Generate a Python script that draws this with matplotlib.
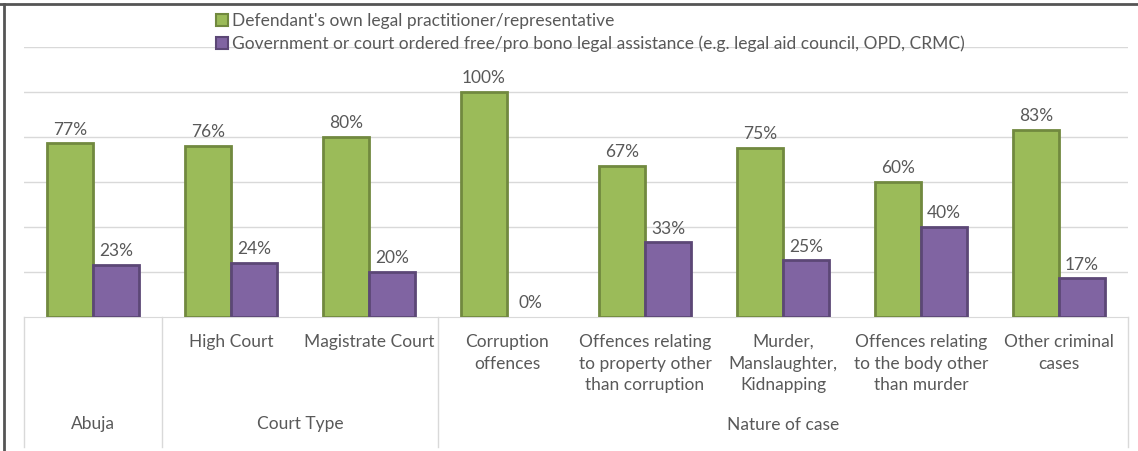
import matplotlib.pyplot as plt
import numpy as np
from matplotlib.patches import Patch
from matplotlib.lines import Line2D

plt.rcParams['font.family'] = ['Lato', 'DejaVu Sans']

categories = ["", "High Court", "Magistrate Court", "Corruption\noffences",
              "Offences relating\nto property other\nthan corruption",
              "Murder,\nManslaughter,\nKidnapping",
              "Offences relating\nto the body other\nthan murder",
              "Other criminal\ncases"]
groups = ["Abuja", "Court Type", "Nature of case"]
group_spans = [(0, 0), (1, 2), (3, 7)]
own_lawyer = [77, 76, 80, 100, 67, 75, 60, 83]
free_aid = [23, 24, 20, 0, 33, 25, 40, 17]
series_names = ["Defendant's own legal practitioner/representative",
                "Government or court ordered free/pro bono legal assistance (e.g. legal aid council, OPD, CRMC)"]

green, green_edge = "#9BBB59", "#71893F"
purple, purple_edge = "#8064A2", "#5C4776"
grey_text = "#595959"
grid_col = "#D9D9D9"
fs = 12.5

fig = plt.figure(figsize=(11.38, 4.51), dpi=100)
ax = fig.add_axes([24 / 1138, 1 - 316.5 / 451, 1104 / 1138, 270 / 451])

x = np.arange(len(categories))
w = 1 / 3
b1 = ax.bar(x - w / 2, own_lawyer, w, color=green, edgecolor=green_edge, linewidth=2, zorder=3)
b2 = ax.bar(x + w / 2, free_aid, w, color=purple, edgecolor=purple_edge, linewidth=2, zorder=3)

for bars, vals in ((b1, own_lawyer), (b2, free_aid)):
    for rect, v in zip(bars, vals):
        if v == 0:
            rect.set_linewidth(0)
        ax.annotate(f"{v}%", (rect.get_x() + rect.get_width() / 2, v),
                    xytext=(0, 4), textcoords="offset points",
                    ha="center", va="bottom", fontsize=fs, color=grey_text)

ax.set_xlim(-0.5, len(categories) - 0.5)
ax.set_ylim(0, 120)
ax.set_yticks(np.arange(20, 121, 20))
ax.yaxis.grid(True, color=grid_col, linewidth=1)
ax.set_axisbelow(True)
ax.tick_params(left=False, labelleft=False, bottom=False, labelbottom=False)
for s in ("top", "right", "left"):
    ax.spines[s].set_visible(False)
ax.spines["bottom"].set_color(grid_col)

# two-level category axis below the bars
for xi, lab in zip(x, categories):
    ax.text(xi, -0.065, lab, transform=ax.get_xaxis_transform(), ha="center", va="top",
            fontsize=fs, color=grey_text, linespacing=1.42)
for name, (a, b) in zip(groups, group_spans):
    ax.text((a + b) / 2, -0.40, name, transform=ax.get_xaxis_transform(), ha="center", va="center",
            fontsize=fs, color=grey_text)
for sep in (-0.5, 0.5, 2.5, 7.5):
    ax.plot([sep, sep], [0, -0.483], transform=ax.get_xaxis_transform(), color=grid_col,
            linewidth=1, clip_on=False)

handles = [Patch(facecolor=green, edgecolor=green_edge, linewidth=1.5),
           Patch(facecolor=purple, edgecolor=purple_edge, linewidth=1.5)]
fig.legend(handles, series_names, loc="upper left", bbox_to_anchor=(209 / 1138, 1 - 6 / 451),
           frameon=False, fontsize=fs, labelcolor=grey_text, handlelength=0.7, handleheight=0.7,
           handletextpad=0.2, labelspacing=0.4, borderaxespad=0)

# frame edges
fig.add_artist(Line2D([0, 1], [1 - 4 / 451, 1 - 4 / 451], color="#555555", linewidth=2))
fig.add_artist(Line2D([4 / 1138, 4 / 1138], [0, 1 - 4 / 451], color="#555555", linewidth=2))

fig.savefig("out.png", dpi=100)
